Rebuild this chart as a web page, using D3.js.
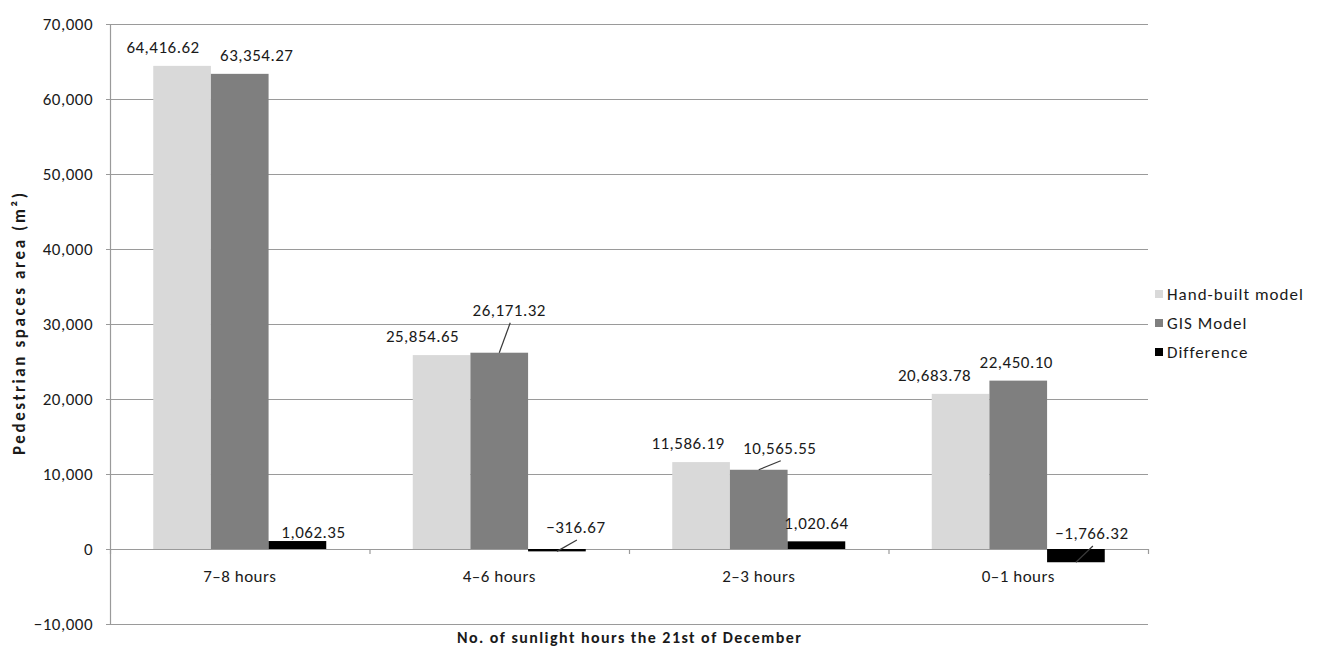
<!DOCTYPE html>
<html>
<head>
<meta charset="utf-8">
<script src="https://cdn.jsdelivr.net/npm/d3@7"></script>
<style>
  html, body { margin: 0; padding: 0; background: #fff; }
  svg { display: block; }
  text { font-family: Carlito, Lato, "Open Sans", sans-serif; fill: #1a1a1a; }
</style>
</head>
<body>
<svg id="chart" width="1321" height="648"></svg>
<script>
// Sunlit pedestrian space area per sunlight-hour class
const categories = ["7–8 hours", "4–6 hours", "2–3 hours", "0–1 hours"];
const seriesNames = ["Hand-built model", "GIS Model", "Difference"];
const handBuilt = [64416.62, 25854.65, 11586.19, 20683.78];
const gisModel = [63354.27, 26171.32, 10565.55, 22450.10];
const difference = [1062.35, -316.67, 1020.64, -1766.32];
const yTicks = [-10000, 0, 10000, 20000, 30000, 40000, 50000, 60000, 70000];

const seriesValues = [handBuilt, gisModel, difference];
const seriesColors = ["#d9d9d9", "#7f7f7f", "#000000"];

// Hand-placed label nudges [dx from bar centre, dy from bar end] and leader-line flags
const labelNudge = [
  [[-19, -19], [17, -19], [16, -9]],
  [[-19, -19], [10, -43], [19, -22]],
  [[-13, -19], [21, -22], [0, -18]],
  [[-26, -19], [-2, -19], [16, -16]]
];
const leader = [
  [false, false, false],
  [false, true, true],
  [false, true, false],
  [false, false, true]
];

const svg = d3.select("#chart");
const plotLeft = 110, plotRight = 1148, plotTop = 24, plotBottom = 624;
const fontSize = 17, spacing = 0.5;

const y = d3.scaleLinear().domain([-10000, 70000]).range([plotBottom, plotTop]);
const x0 = d3.scaleBand().domain(categories).range([plotLeft, plotRight]).padding(0);
const x1 = d3.scaleBand().domain(seriesNames).range([0, x0.bandwidth()])
  .paddingInner(0).paddingOuter(0.75);

const gridColor = "#9a9a9a";

// Horizontal gridlines
svg.append("g").selectAll("line").data(yTicks).join("line")
  .attr("x1", plotLeft - 4).attr("x2", plotRight)
  .attr("y1", d => y(d) + 0.5).attr("y2", d => y(d) + 0.5)
  .attr("stroke", gridColor).attr("stroke-width", 1.2);

// Vertical axis line
svg.append("line")
  .attr("x1", plotLeft + 0.5).attr("x2", plotLeft + 0.5)
  .attr("y1", plotTop).attr("y2", plotBottom)
  .attr("stroke", gridColor).attr("stroke-width", 1.2);

// Y tick labels
const yAxis = svg.append("g").attr("transform", `translate(${plotLeft},0)`)
  .call(d3.axisLeft(y).tickValues(yTicks).tickFormat(d3.format(",")).tickSize(0).tickPadding(17));
yAxis.select(".domain").remove();
yAxis.selectAll("text").attr("font-size", fontSize).attr("letter-spacing", spacing)
  .style("font-family", null).attr("fill", "#1a1a1a");

// Category boundary ticks below the zero line
const bounds = categories.map(c => x0(c)).concat([plotRight]);
svg.append("g").selectAll("line").data(bounds).join("line")
  .attr("x1", d => d + 0.5).attr("x2", d => d + 0.5)
  .attr("y1", y(0)).attr("y2", y(0) + 5)
  .attr("stroke", gridColor).attr("stroke-width", 1.2);

// Category labels
const xAxis = svg.append("g").attr("transform", `translate(0,${y(0)})`)
  .call(d3.axisBottom(x0).tickSize(0).tickPadding(0));
xAxis.select(".domain").remove();
xAxis.selectAll("text").attr("font-size", fontSize).attr("letter-spacing", spacing)
  .attr("y", 27).attr("dy", "0.35em")
  .style("font-family", null).attr("fill", "#1a1a1a");

// Bars
const rows = [];
categories.forEach((c, ci) => {
  seriesNames.forEach((s, si) => {
    rows.push({ c, ci, s, si, v: seriesValues[si][ci] });
  });
});

svg.append("g").selectAll("rect").data(rows).join("rect")
  .attr("x", d => x0(d.c) + x1(d.s))
  .attr("width", x1.bandwidth())
  .attr("y", d => y(Math.max(0, d.v)))
  .attr("height", d => Math.abs(y(d.v) - y(0)))
  .attr("fill", d => seriesColors[d.si]);

// Value labels with leader lines where moved away from the bar
const fmt = d3.format(",.2f");
const lab = svg.append("g");
rows.forEach(d => {
  const cx = x0(d.c) + x1(d.s) + x1.bandwidth() / 2;
  const endY = d.v >= 0 ? y(d.v) : y(0);
  const [dx, dy] = labelNudge[d.ci][d.si];
  const lx = cx + dx, ly = endY + dy;
  if (leader[d.ci][d.si]) {
    lab.append("line")
      .attr("x1", cx).attr("y1", y(d.v))
      .attr("x2", lx + 1).attr("y2", ly + 13)
      .attr("stroke", "#3a3a3a").attr("stroke-width", 1.2);
  }
  lab.append("text")
    .attr("x", lx).attr("y", ly).attr("dy", "0.35em")
    .attr("text-anchor", "middle").attr("font-size", fontSize)
    .attr("letter-spacing", spacing)
    .text(fmt(d.v));
});

// Legend
const legend = svg.append("g").attr("transform", "translate(1155,294)");
seriesNames.forEach((s, i) => {
  const g = legend.append("g").attr("transform", `translate(0,${i * 29})`);
  g.append("rect").attr("x", 0).attr("y", -4).attr("width", 8).attr("height", 8)
    .attr("fill", seriesColors[i]);
  g.append("text").attr("x", 12).attr("y", 0).attr("dy", "0.35em")
    .attr("font-size", fontSize).attr("letter-spacing", 1).text(s);
});

// Axis titles
svg.append("text")
  .attr("transform", `translate(19,${(plotTop + plotBottom) / 2}) rotate(-90)`)
  .attr("text-anchor", "middle").attr("dy", "0.35em")
  .attr("font-size", 17).attr("font-weight", "bold")
  .attr("textLength", 262).attr("lengthAdjust", "spacing")
  .text("Pedestrian spaces area (m²)");

svg.append("text")
  .attr("x", (plotLeft + plotRight) / 2).attr("y", 637).attr("dy", "0.35em")
  .attr("text-anchor", "middle")
  .attr("font-size", 16).attr("font-weight", "bold")
  .attr("textLength", 344).attr("lengthAdjust", "spacing")
  .text("No. of sunlight hours the 21st of December");
</script>
</body>
</html>
